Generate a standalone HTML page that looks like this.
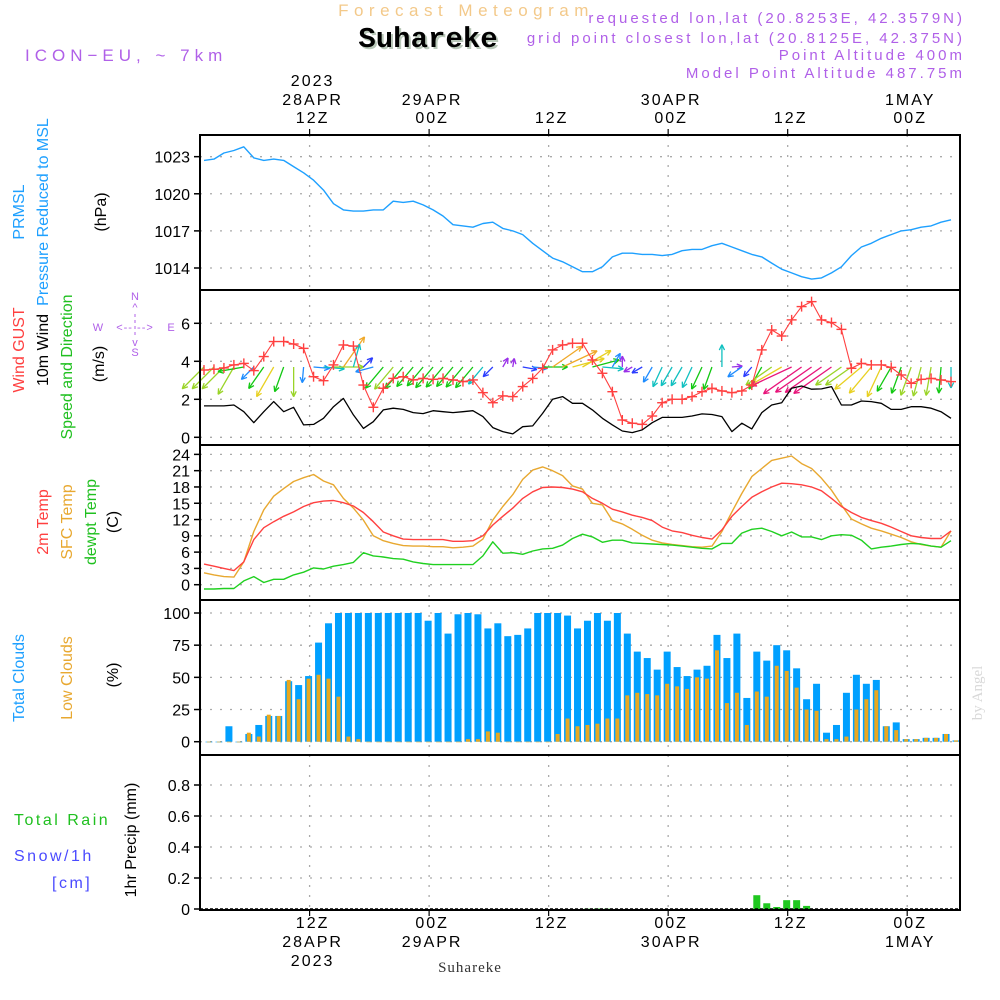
<!DOCTYPE html>
<html><head><meta charset="utf-8"><title>Meteogram Suhareke</title>
<style>
html,body{margin:0;padding:0;background:#fff;}
svg{display:block;font-family:"Liberation Sans",sans-serif;}
</style></head>
<body>
<svg id="chart" width="1000" height="1000" viewBox="0 0 1000 1000">
  <g>
    <text x="466" y="16" font-size="17" fill="#f3c98a" text-anchor="middle" letter-spacing="5.5">Forecast Meteogram</text>
    <text x="430" y="49" font-size="29" font-weight="bold" fill="#b9c8b9" text-anchor="middle" font-family="Liberation Mono, monospace">Suhareke</text>
    <text x="428" y="47" font-size="29" font-weight="bold" fill="#000" text-anchor="middle" font-family="Liberation Mono, monospace">Suhareke</text>
    <text x="25" y="61" font-size="17" fill="#b060e8" letter-spacing="5">ICON−EU, ~ 7km</text>
    <g font-size="15" fill="#b060e8" text-anchor="end" letter-spacing="3">
      <text x="965" y="23">requested lon,lat (20.8253E, 42.3579N)</text>
      <text x="965" y="43">grid point closest lon,lat (20.8125E, 42.375N)</text>
      <text x="965" y="60">Point Altitude 400m</text>
      <text x="965" y="78">Model Point Altitude 487.75m</text>
    </g>
  </g>
  <g id="leftlabels" font-size="16">
    <text transform="translate(24,212) rotate(-90)" text-anchor="middle" fill="#1ea0ff">PRMSL</text>
    <text transform="translate(48,212) rotate(-90)" text-anchor="middle" fill="#1ea0ff">Pressure Reduced to MSL</text>
    <text transform="translate(106,212) rotate(-90)" text-anchor="middle" fill="#000">(hPa)</text>
    <text transform="translate(24,350) rotate(-90)" text-anchor="middle" fill="#ff4040">Wind GUST</text>
    <text transform="translate(48,350) rotate(-90)" text-anchor="middle" fill="#000">10m Wind</text>
    <text transform="translate(72,367) rotate(-90)" text-anchor="middle" fill="#20c020">Speed and Direction</text>
    <text transform="translate(104,364) rotate(-90)" text-anchor="middle" fill="#000">(m/s)</text>
    <g font-size="11" fill="#b060e8">
      <text x="135" y="300" text-anchor="middle">N</text>
      <text x="135" y="311" text-anchor="middle">^</text>
      <text x="135" y="331" text-anchor="middle" letter-spacing="1">&lt;-- --&gt;</text>
      <text x="135" y="346" text-anchor="middle">v</text>
      <text x="135" y="356" text-anchor="middle">S</text>
      <text x="98" y="331" text-anchor="middle">W</text>
      <text x="171" y="331" text-anchor="middle">E</text>
      <line x1="135" y1="314" x2="135" y2="338" stroke="#b060e8" stroke-dasharray="3,3"/>
    </g>
    <text transform="translate(48,522) rotate(-90)" text-anchor="middle" fill="#ff4040">2m Temp</text>
    <text transform="translate(72,522) rotate(-90)" text-anchor="middle" fill="#e8a830">SFC Temp</text>
    <text transform="translate(96,522) rotate(-90)" text-anchor="middle" fill="#20c020">dewpt Temp</text>
    <text transform="translate(118,522) rotate(-90)" text-anchor="middle" fill="#000">(C)</text>
    <text transform="translate(24,678) rotate(-90)" text-anchor="middle" fill="#1ea0ff">Total Clouds</text>
    <text transform="translate(72,678) rotate(-90)" text-anchor="middle" fill="#e8a830">Low Clouds</text>
    <text transform="translate(118,675) rotate(-90)" text-anchor="middle" fill="#000">(%)</text>
    <text x="14" y="825" fill="#20c020" letter-spacing="2.5">Total   Rain</text>
    <text x="14" y="861" fill="#4a4aff" letter-spacing="2.5">Snow/1h</text>
    <text x="52" y="888" fill="#4a4aff" letter-spacing="2.5">[cm]</text>
    <text transform="translate(136,840) rotate(-90)" text-anchor="middle" fill="#000">1hr Precip (mm)</text>
  </g>
  <text transform="translate(982,693) rotate(-90)" text-anchor="middle" font-size="15" fill="#d8d8d8" font-family="Liberation Serif, serif">by Angel</text>
  <text x="470" y="972" font-size="15" text-anchor="middle" font-family="Liberation Serif, serif" fill="#333" letter-spacing="1">Suhareke</text>
</svg>
<script>
// ---- data (hourly, 02Z 28APR .. 05Z 1MAY) ----
const pressure=[1022.7,1022.8,1023.3,1023.5,1023.8,1022.9,1022.7,1022.8,1022.7,1022.2,1021.7,1021.1,1020.3,1019.2,1018.7,1018.6,1018.6,1018.7,1018.7,1019.4,1019.3,1019.4,1019.1,1018.7,1018.2,1017.5,1017.4,1017.3,1017.6,1017.7,1017.2,1017.0,1016.7,1016.0,1015.4,1014.8,1014.5,1014.1,
1013.7,1013.7,1014.1,1014.9,1015.2,1015.2,1015.1,1015.1,1015.0,1015.1,1015.4,1015.5,1015.5,1015.8,1016.0,1015.7,1015.4,1015.1,1014.9,1014.4,1013.9,1013.6,1013.3,1013.1,1013.2,1013.6,1014.1,1015.0,1015.7,1016.0,1016.4,1016.7,1017.0,1017.1,1017.3,1017.4,1017.7,1017.9];
const wind10m=[1.65,1.65,1.65,1.7,1.35,0.77,1.35,1.88,1.35,1.58,0.65,0.68,1.0,1.61,2.05,1.18,0.47,0.82,1.44,1.53,1.47,1.3,1.25,1.4,1.35,1.3,1.35,1.4,1.09,0.51,0.3,0.18,0.56,0.6,1.26,2.0,2.14,1.79,
1.79,1.44,1.0,0.65,0.33,0.25,0.39,0.77,1.05,1.05,1.05,1.12,1.23,1.2,1.09,0.3,0.74,0.44,1.3,1.7,1.82,2.58,2.7,2.53,2.55,2.67,1.7,1.7,1.91,1.88,1.79,1.47,1.47,1.61,1.61,1.53,1.35,1.0];
const windGust=[3.54,3.58,3.65,3.81,3.89,3.51,4.25,5.04,5.04,4.91,4.68,3.19,2.98,3.81,4.86,4.8,2.75,1.58,2.58,3.1,3.19,3.02,3.1,3.05,3.1,3.02,2.93,3.02,2.35,1.82,2.18,2.14,2.67,3.1,3.63,4.6,4.86,4.95,
4.95,4.07,3.37,2.4,0.91,0.74,0.68,1.12,1.82,2.0,2.0,2.14,2.4,2.58,2.44,2.35,2.44,2.75,4.6,5.65,5.33,6.18,6.88,7.14,6.18,6.04,5.68,3.63,3.89,3.81,3.81,3.68,3.28,2.84,3.05,3.1,3.02,2.93];
const windDir=[135,135,135,120,170,135,125,120,110,90,95,5,5,0,-55,-75,-45,165,130,130,130,130,130,130,130,130,130,130,130,135,-60,-80,10,5,0,-35,-25,-15,
-30,-15,5,-60,-90,150,150,120,115,120,120,115,115,110,-90,-5,145,130,120,145,150,155,145,145,145,145,145,145,140,130,115,120,110,110,105,100,95,90];
const temp2m=[3.8,3.4,3.0,2.6,4.2,8.3,10.5,11.6,12.6,13.4,14.4,15.1,15.4,15.5,15.1,14.5,13.3,11.6,9.7,9.0,8.4,8.3,8.3,8.3,8.3,8.0,8.0,8.1,9.0,11.0,12.6,14.1,15.9,17.1,17.9,18.0,17.9,17.6,17.1,15.9,
15.0,13.9,13.4,12.8,12.4,11.8,10.6,9.9,9.6,9.1,8.7,8.4,10.1,12.6,14.4,16.1,17.1,18.0,18.7,18.6,18.4,18.0,17.3,15.9,14.4,13.3,12.4,11.8,11.3,10.6,9.8,9.0,8.7,8.5,8.5,9.9];
const tempSfc=[2.2,1.8,1.5,1.4,4.2,9.8,13.8,16.3,17.7,19.0,19.7,20.3,19.1,18.4,15.9,14.1,11.9,9.0,8.1,7.6,7.2,7.1,7.1,7.0,7.0,6.8,6.9,7.1,8.4,11.9,14.4,16.6,19.4,21.1,21.7,21.0,20.1,18.2,17.6,15.0,
14.7,11.8,11.2,10.2,9.1,8.2,7.7,7.4,7.2,7.0,6.9,7.1,9.8,13.4,16.8,19.9,21.4,22.9,23.3,23.7,22.3,21.4,19.6,17.4,14.7,12.1,11.2,10.4,9.9,9.3,8.7,7.9,7.4,7.1,6.9,9.9];
const dewpt=[-0.8,-0.8,-0.7,-0.7,0.7,1.5,0.4,1.0,1.0,1.8,2.3,3.1,2.9,3.4,3.7,4.1,5.9,5.3,5.1,4.8,4.7,4.2,3.9,3.7,3.7,3.7,3.7,3.7,5.3,7.9,5.8,5.9,5.6,6.2,6.6,6.7,7.3,8.5,9.3,8.8,
7.8,8.2,8.2,7.7,7.6,7.5,7.4,7.3,7.1,6.9,6.7,6.6,7.6,7.6,9.5,10.2,10.4,9.8,9.0,9.7,8.8,8.8,8.3,9.0,9.2,9.1,8.2,6.6,6.9,7.1,7.4,7.6,7.5,7.1,6.9,8.1];
const totalClouds=[0,0,12,0,6,13,20,20,47,44,51,77,92,100,100,100,100,100,100,100,100,100,94,100,84,99,100,99,88,92,82,83,88,100,100,100,98,88,94,
100,94,100,84,70,65,56,70,58,51,56,59,83,65,84,34,70,63,75,71,57,33,45,7,13,38,52,45,48,12,15,2,2,3,3,6,1];
const lowClouds=[0,0,0,0,7,4,21,20,48,33,49,52,49,35,4,2,0,0,0,0,0,0,0,0,0,0,2,2,8,7,0,0,0,0,0,6,18,12,13,
14,18,18,36,38,37,36,45,43,41,50,49,71,30,38,13,39,35,59,55,42,25,24,2,2,4,25,33,40,12,9,2,2,3,3,6,1];
const precip=[0,0,0,0,0,0,0,0,0,0,0,0,0,0,0,0,0,0,0,0,0,0,0,0,0,0,0,0,0,0,0,0,0,0,0,0,0,0,0.002,0.003,0.002,0,0,0,0,0,0,0,0,0,0,0,0,0,0,0.089,0.037,0.013,0.057,0.057,0.02,0,0,0,0,0,0,0,0,0,0,0,0,0,0,0];
const pTicks=[1014,1017,1020,1023];
const wTicks=[0,2,4,6];
const tTicks=[0,3,6,9,12,15,18,21,24];
const cTicks=[0,25,50,75,100];
const rTicks=[0,0.2,0.4,0.6,0.8];
const timeTicksTop=[["2023","28APR","12Z"],["","29APR","00Z"],["","","12Z"],["","30APR","00Z"],["","","12Z"],["","1MAY","00Z"]];
const timeTicksBottom=[["12Z","28APR","2023"],["00Z","29APR",""],["12Z","",""],["00Z","30APR",""],["12Z","",""],["00Z","1MAY",""]];
const tickHours=[10,22,34,46,58,70];

// ---- geometry ----
const NS="http://www.w3.org/2000/svg";
const svg=document.getElementById('chart');
const L=200,R=960;
const panels={p:[135,290],w:[290,445],t:[445,600],c:[600,755],r:[755,910]};
function xBar(e){return 209+9.96*e;}
function xLine(e){return 204+9.96*e;}
function xTick(h){return 309.6+9.96*(h-10);}
function yP(v){return 268-(v-1014)*12.37;}
function yW(v){return 437.3-v*19;}
function yT(v){return 584.7-v*5.43;}
function yC(v){return 741.7-v*1.287;}
function yR(v){return 909-v*155;}
function el(tag,attrs,parent){const n=document.createElementNS(NS,tag);for(const k in attrs)n.setAttribute(k,attrs[k]);(parent||svg).appendChild(n);return n;}

const gGrid=el('g',{});


function yAxis(ticks,fy,fmt,name){
  const g=el('g',{});
  
  
  ticks.forEach(t=>{
    const y=fy(t);
    el('line',{x1:L,x2:R,y1:y,y2:y,stroke:'#aaa','stroke-width':1.3,'stroke-dasharray':'2,8'},gGrid);
    el('line',{x1:L-6,x2:L,y1:y,y2:y,stroke:'#000','stroke-width':1.5},g);
    const tx=el('text',{x:L-10,y:y+6,'text-anchor':'end','font-size':16,fill:'#000'},g);
    tx.textContent=fmt(t);
  });
}
yAxis(pTicks,yP,t=>t,'pressure-y-axis');
yAxis(wTicks,yW,t=>t,'wind-y-axis');
yAxis(tTicks,yT,t=>t,'temp-y-axis');
yAxis(cTicks,yC,t=>t,'clouds-y-axis');
yAxis(rTicks,yR,t=>t===0?'0':t.toFixed(1),'precip-y-axis');
tickHours.forEach(h=>{
  const x=xTick(h);
  el('line',{x1:x,x2:x,y1:135,y2:910,stroke:'#aaa','stroke-width':1.3,'stroke-dasharray':'2,8'},gGrid);
  el('line',{x1:x,x2:x,y1:129,y2:135,stroke:'#000','stroke-width':1.2},gGrid);
  el('line',{x1:x,x2:x,y1:910,y2:916,stroke:'#000','stroke-width':1.2},gGrid);
});
const gTop=el('g',{'font-size':16,'text-anchor':'middle',fill:'#000'});


timeTicksTop.forEach((lab,i)=>{const x=xTick(tickHours[i])+3;[86,105,123].forEach((y,j)=>{if(lab[j]){const t=el('text',{x:x,y:y,'letter-spacing':2},gTop);t.textContent=lab[j];}});});
const gBot=el('g',{'font-size':16,'text-anchor':'middle',fill:'#000'});


timeTicksBottom.forEach((lab,i)=>{const x=xTick(tickHours[i])+3;[928,947,966].forEach((y,j)=>{if(lab[j]){const t=el('text',{x:x,y:y,'letter-spacing':2},gBot);t.textContent=lab[j];}});});

function poly(data,fx,fy,color,name,w){
  const pts=data.map((v,i)=>fx(i).toFixed(1)+','+fy(v).toFixed(1)).join(' ');
  const p=el('polyline',{points:pts,fill:'none',stroke:color,'stroke-width':w||1.4,'stroke-linejoin':'round'});
  
  
  return p;
}
poly(pressure,xLine,yP,'#1ea0ff','pressure-line');
function speedColor(s){
  if(s<0.35)return '#9a30e8'; if(s<0.6)return '#2a3cff'; if(s<0.9)return '#1e8cff';
  if(s<1.2)return '#10c0c0'; if(s<1.5)return '#12c812'; if(s<1.75)return '#9ad428';
  if(s<2.0)return '#e8d020'; if(s<2.4)return '#f0a828'; return '#e8147a';
}
const gArr=el('g',{});


windDir.forEach((d,i)=>{
  const s=wind10m[i],len=6+15*s,a=d*Math.PI/180;
  const x0=xLine(i),y0=367,x1=x0+len*Math.cos(a),y1=y0+len*Math.sin(a);
  const c=speedColor(s);
  const g=el('g',{stroke:c,'stroke-width':1.3,fill:'none'},gArr);
  
  
  el('line',{x1:x0,y1:y0,x2:x1,y2:y1},g);
  const h=6;
  [a+Math.PI-0.45,a+Math.PI+0.45].forEach(b=>el('line',{x1:x1,y1:y1,x2:x1+h*Math.cos(b),y2:y1+h*Math.sin(b)},g));
});
poly(windGust,xLine,yW,'#ff4040','wind-gust-line',1.1);
const gCross=el('g',{stroke:'#ff4040','stroke-width':1.4});


windGust.forEach((v,i)=>{const x=xLine(i),y=yW(v);el('line',{x1:x-5,x2:x+5,y1:y,y2:y},gCross);el('line',{x1:x,x2:x,y1:y-5,y2:y+5},gCross);});
poly(wind10m,xLine,yW,'#000','wind-10m-line',1.3);
poly(tempSfc,xLine,yT,'#e8a830','sfc-temp-line');
poly(temp2m,xLine,yT,'#ff4040','temp-2m-line');
poly(dewpt,xLine,yT,'#20d020','dewpt-line');
const gC=el('g',{});


totalClouds.forEach((v,i)=>{
  const x=xBar(i);
  const b=el('rect',{x:x-3.5,y:yC(v),width:7,height:Math.max(0.6,yC(0)-yC(v)),fill:'#00a0ff'},gC);
  
  
  const lv=lowClouds[i];
  const lb=el('rect',{x:x-2,y:yC(lv),width:4,height:Math.max(0.6,yC(0)-yC(lv)),fill:'#e8a820'},gC);
  
  
});
const gR=el('g',{});


precip.forEach((v,i)=>{
  if(v<=0)return;
  const x=xBar(i);
  const b=el('rect',{x:x-3.5,y:yR(v),width:7,height:yR(0)-yR(v),fill:'#20c820'},gR);
  
  
});
el('line',{x1:L,x2:R,y1:909,y2:909,stroke:'#000','stroke-width':1.5,'stroke-dasharray':'3,2'});
const gF=el('g',{fill:'none',stroke:'#000','stroke-width':2});


Object.values(panels).forEach(p=>el('rect',{x:L,y:p[0],width:R-L,height:p[1]-p[0]},gF));
</script>
</body></html>
